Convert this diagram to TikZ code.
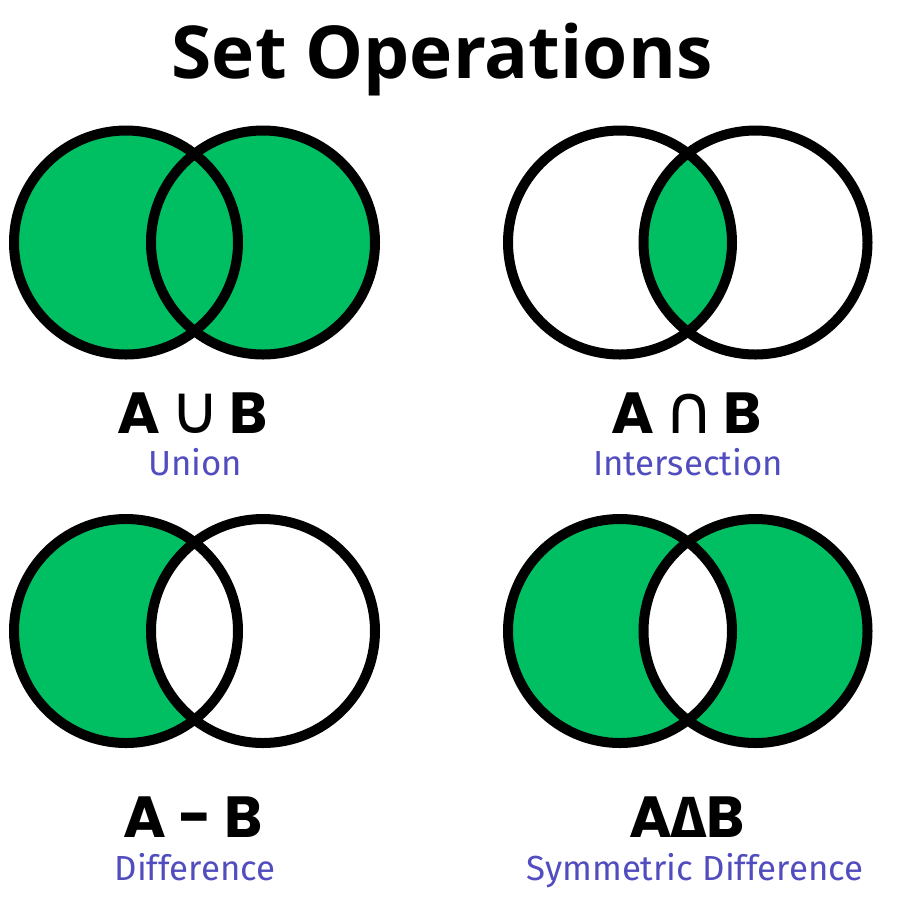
\documentclass[tikz,border=0pt]{standalone}
\usepackage{fontspec}
\setmainfont{Fira Sans}
\newfontfamily\headfont{Open Sans}
\newfontfamily\labelfont{Poppins}
\newfontfamily\symfont{DejaVu Sans}
\usetikzlibrary{positioning}

% Custom colours
\definecolor{setgreen}{RGB}{0,191,99}
\definecolor{captionblue}{RGB}{82,77,190}

\begin{document}
\begin{tikzpicture}[
    x=0.5pt, y=-0.5pt,
    % --- Style Definitions ---
    ring/.style={draw=black, line width=5pt},
    region/.style={fill=setgreen},
    heading/.style={
        font=\headfont\bfseries\fontsize{36.5}{40}\selectfont,
        anchor=base, inner sep=0pt
    },
    setlabel/.style={
        font=\labelfont\bfseries\fontsize{29}{34}\selectfont,
        anchor=base, inner sep=0pt
    },
    caption/.style={
        font=\fontsize{17.4}{20}\selectfont,
        text=captionblue, anchor=base, inner sep=0pt
    }
]

% ================= Canvas =================
\fill[white] (0,0) rectangle (914,896);
\useasboundingbox (0,0) rectangle (914,896);

\node[heading] (title) at (442,78) {Set Operations};

% ================= Centres =================
\coordinate (uA) at (126,242.5); \coordinate (uB) at (263,242.5);
\coordinate (iA) at (620,242.5); \coordinate (iB) at (755.5,242.5);
\coordinate (dA) at (126,631);   \coordinate (dB) at (263,631);
\coordinate (sA) at (620,631);   \coordinate (sB) at (755.5,631);

% ================= 1. Union =================
\fill[region] (uA) circle (56pt) (uB) circle (56pt);
\draw[ring] (uA) circle (56pt) (uB) circle (56pt);

% ================= 2. Intersection =================
\begin{scope}
    \clip (iA) circle (56pt);
    \fill[region] (iB) circle (56pt);
\end{scope}
\draw[ring] (iA) circle (56pt) (iB) circle (56pt);

% ================= 3. Difference =================
\fill[region] (dA) circle (56pt);
\fill[white] (dB) circle (56pt);
\draw[ring] (dA) circle (56pt) (dB) circle (56pt);

% ================= 4. Symmetric Difference =================
\fill[region, even odd rule] (sA) circle (56pt) (sB) circle (56pt);
\draw[ring] (sA) circle (56pt) (sB) circle (56pt);

% ================= Labels =================
\node[setlabel] (union) at (193,433) {A\,{\symfont\mdseries\fontsize{34}{34}\selectfont ∪}\,B};
\node[caption] (unioncap) at (195,475) {Union};

\node[setlabel] (inter) at (687,433) {A\,{\symfont\mdseries\fontsize{34}{34}\selectfont ∩}\,B};
\node[caption] (intercap) at (688,475) {Intersection};

\node[setlabel] (diff) at (193,837) {A - B};
\node[caption] (diffcap) at (195,880) {Difference};

\node[setlabel] (symdiff) at (687,837) {A{\rmfamily Δ}B};
\node[caption] (symdiffcap) at (695,880) {Symmetric Difference};

\end{tikzpicture}
\end{document}
